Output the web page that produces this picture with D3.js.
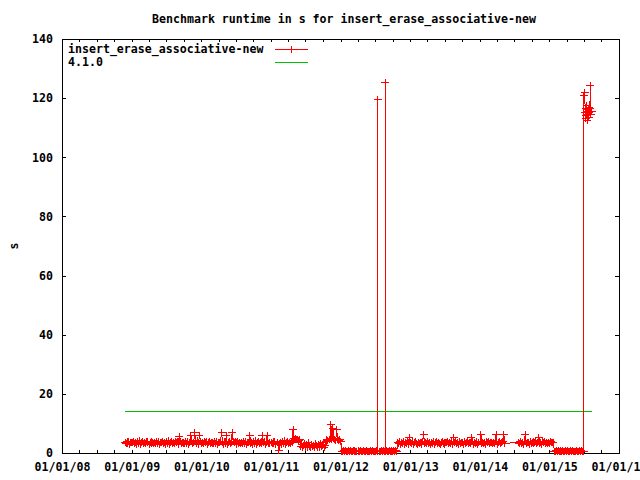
<!DOCTYPE html>
<html><head><meta charset="utf-8">
<script src="https://cdn.jsdelivr.net/npm/d3@7"></script>
<style>
body{margin:0;background:#fff}
svg{display:block}
text{font-family:"DejaVu Sans Mono",monospace;font-weight:bold;font-size:11.6px;fill:#000}
</style>
</head><body>
<svg id="chart" width="640" height="480"></svg>
<script>
const chartTitle = "Benchmark runtime in s for insert_erase_associative-new";
const yLabel = "s";
const seriesName = "insert_erase_associative-new";
const refName = "4.1.0";
const refValue = 14;
const yTickValues = [0, 20, 40, 60, 80, 100, 120, 140];
const xDomain = ["2008-01-01", "2016-01-01"];

const dates = [
"2008-11-28",
"2008-12-02","2008-12-07","2008-12-12","2008-12-17","2008-12-22","2008-12-27",
"2009-01-02","2009-01-07","2009-01-12","2009-01-17","2009-01-22","2009-01-27",
"2009-02-02","2009-02-07","2009-02-12","2009-02-17","2009-02-22","2009-02-27",
"2009-03-02","2009-03-07","2009-03-12","2009-03-17","2009-03-22","2009-03-27",
"2009-04-02","2009-04-07","2009-04-12","2009-04-17","2009-04-22","2009-04-27",
"2009-05-02","2009-05-07","2009-05-12","2009-05-17","2009-05-22","2009-05-27",
"2009-06-02","2009-06-07","2009-06-12","2009-06-17","2009-06-22","2009-06-27",
"2009-07-02","2009-07-07","2009-07-12","2009-07-17","2009-07-22","2009-07-27",
"2009-08-02","2009-08-07","2009-08-12","2009-08-17","2009-08-22","2009-08-27",
"2009-09-02","2009-09-07","2009-09-12","2009-09-17","2009-09-22","2009-09-27",
"2009-10-02","2009-10-07","2009-10-12","2009-10-17","2009-10-22","2009-10-27",
"2009-11-02","2009-11-07","2009-11-12","2009-11-17","2009-11-22","2009-11-27",
"2009-12-02","2009-12-07","2009-12-12","2009-12-17","2009-12-22","2009-12-27",
"2010-01-02","2010-01-07","2010-01-12","2010-01-17","2010-01-22","2010-01-27",
"2010-02-02","2010-02-07","2010-02-12","2010-02-17","2010-02-22","2010-02-27",
"2010-03-02","2010-03-07","2010-03-12","2010-03-17","2010-03-22","2010-03-27",
"2010-04-02","2010-04-07","2010-04-12","2010-04-17","2010-04-22","2010-04-27",
"2010-05-02","2010-05-07","2010-05-12","2010-05-17","2010-05-22","2010-05-27",
"2010-06-02","2010-06-07","2010-06-12","2010-06-17","2010-06-22","2010-06-27",
"2010-07-02","2010-07-07","2010-07-12","2010-07-17","2010-07-22","2010-07-27",
"2010-08-02","2010-08-07","2010-08-12","2010-08-17","2010-08-22","2010-08-27",
"2010-09-02","2010-09-07","2010-09-12","2010-09-17","2010-09-22","2010-09-27",
"2010-10-02","2010-10-07","2010-10-12","2010-10-17","2010-10-22","2010-10-27",
"2010-11-02","2010-11-07","2010-11-12","2010-11-17","2010-11-22","2010-11-27",
"2010-12-02","2010-12-07","2010-12-12","2010-12-17","2010-12-22","2010-12-27",
"2011-01-02","2011-01-07","2011-01-12","2011-01-17","2011-01-22","2011-01-27",
"2011-02-02","2011-02-07","2011-02-12","2011-02-17","2011-02-22","2011-02-27",
"2011-03-02","2011-03-07","2011-03-12","2011-03-17","2011-03-22","2011-03-27",
"2011-04-02","2011-04-07","2011-04-12","2011-04-17","2011-04-22","2011-04-27",
"2011-05-02","2011-05-07","2011-05-12","2011-05-17","2011-05-22","2011-05-27",
"2011-06-02","2011-06-07","2011-06-12","2011-06-17","2011-06-22","2011-06-27",
"2011-07-02","2011-07-07","2011-07-12","2011-07-17","2011-07-22","2011-07-27",
"2011-08-02","2011-08-07","2011-08-12","2011-08-17","2011-08-22","2011-08-27",
"2011-09-02","2011-09-07","2011-09-12","2011-09-17","2011-09-22","2011-09-27",
"2011-10-02","2011-10-07","2011-10-12","2011-10-17","2011-10-22","2011-10-27",
"2011-11-02","2011-11-07","2011-11-12","2011-11-17","2011-11-22","2011-11-27",
"2011-12-02","2011-12-07","2011-12-12","2011-12-17","2011-12-22","2011-12-27",
"2012-01-03","2012-01-07","2012-01-12","2012-01-17","2012-01-22","2012-01-27",
"2012-02-02","2012-02-07","2012-02-12","2012-02-17","2012-02-22","2012-02-27",
"2012-03-02","2012-03-07","2012-03-12","2012-03-17","2012-03-22","2012-03-27",
"2012-04-02","2012-04-07","2012-04-12","2012-04-17","2012-04-22","2012-04-27",
"2012-05-02","2012-05-07","2012-05-12","2012-05-17","2012-05-22","2012-05-27",
"2012-06-02","2012-06-07","2012-06-12","2012-06-17","2012-06-22","2012-06-27",
"2012-07-02","2012-07-07","2012-07-13","2012-07-14","2012-07-15","2012-07-22","2012-07-27",
"2012-08-02","2012-08-07","2012-08-12","2012-08-17","2012-08-22","2012-08-23","2012-08-24","2012-08-27",
"2012-09-02","2012-09-07","2012-09-12","2012-09-17","2012-09-22","2012-09-27",
"2012-10-02","2012-10-07","2012-10-12","2012-10-17","2012-10-22","2012-10-27",
"2012-11-02","2012-11-07","2012-11-12","2012-11-17","2012-11-22","2012-11-27",
"2012-12-02","2012-12-07","2012-12-12","2012-12-17","2012-12-22","2012-12-27",
"2013-01-02","2013-01-07","2013-01-12","2013-01-17","2013-01-22","2013-01-27",
"2013-02-02","2013-02-07","2013-02-12","2013-02-17","2013-02-22","2013-02-27",
"2013-03-02","2013-03-07","2013-03-12","2013-03-17","2013-03-22","2013-03-27",
"2013-04-02","2013-04-07","2013-04-12","2013-04-17","2013-04-22","2013-04-27",
"2013-05-02","2013-05-07","2013-05-12","2013-05-17","2013-05-22","2013-05-27",
"2013-06-02","2013-06-07","2013-06-12","2013-06-17","2013-06-22","2013-06-27",
"2013-07-02","2013-07-07","2013-07-12","2013-07-17","2013-07-22","2013-07-27",
"2013-08-02","2013-08-07","2013-08-12","2013-08-17","2013-08-22","2013-08-27",
"2013-09-02","2013-09-07","2013-09-12","2013-09-17","2013-09-22","2013-09-27",
"2013-10-02","2013-10-07","2013-10-12","2013-10-17","2013-10-22","2013-10-27",
"2013-11-02","2013-11-07","2013-11-12","2013-11-17","2013-11-22","2013-11-27",
"2013-12-02","2013-12-07","2013-12-12","2013-12-17","2013-12-22","2013-12-27",
"2014-01-02","2014-01-07","2014-01-12","2014-01-17","2014-01-22","2014-01-27",
"2014-02-02","2014-02-07","2014-02-12","2014-02-17","2014-02-22","2014-02-27",
"2014-03-02","2014-03-07","2014-03-12","2014-03-17","2014-03-22","2014-03-27",
"2014-04-02","2014-04-07","2014-04-12","2014-04-17","2014-04-22","2014-04-27",
"2014-05-02","2014-05-07","2014-05-12",
"2014-07-22","2014-07-27",
"2014-08-02","2014-08-07","2014-08-12","2014-08-17","2014-08-22","2014-08-27",
"2014-09-02","2014-09-07","2014-09-12","2014-09-17","2014-09-22","2014-09-27",
"2014-10-02","2014-10-07","2014-10-12","2014-10-17","2014-10-22","2014-10-27",
"2014-11-02","2014-11-07","2014-11-12","2014-11-17","2014-11-22","2014-11-27",
"2014-12-02","2014-12-07","2014-12-12","2014-12-17","2014-12-22","2014-12-27",
"2015-01-02","2015-01-07","2015-01-12","2015-01-17","2015-01-22","2015-01-27",
"2015-02-02","2015-02-07","2015-02-12","2015-02-17","2015-02-22","2015-02-27",
"2015-03-02","2015-03-07","2015-03-12","2015-03-17","2015-03-22","2015-03-27",
"2015-04-02","2015-04-07","2015-04-12","2015-04-17","2015-04-22","2015-04-27",
"2015-05-02","2015-05-07","2015-05-12","2015-05-17","2015-05-22","2015-05-27",
"2015-06-02","2015-06-07","2015-06-12","2015-06-17","2015-06-22","2015-06-27","2015-06-30",
"2015-07-01","2015-07-05","2015-07-08","2015-07-10","2015-07-12","2015-07-14","2015-07-16","2015-07-18","2015-07-20",
"2015-07-22","2015-07-24","2015-07-26","2015-07-28","2015-07-30","2015-08-01","2015-08-04","2015-08-07","2015-08-11"
];

const runtime = [
3.5,
3.1,3.9,3.2,3.8,3.0,3.6,
3.7,3.4,4.0,3.1,3.6,2.9,
3.8,3.3,4.1,3.0,3.5,3.9,
3.2,3.7,3.1,4.0,3.4,3.8,
3.0,3.6,3.9,3.2,3.7,3.3,
3.5,3.1,3.9,3.2,3.8,3.0,
3.7,3.4,4.0,3.1,3.6,2.9,
3.8,3.3,4.1,3.0,3.5,3.9,
3.2,3.7,3.1,4.0,3.4,3.8,
3.0,5.5,3.9,3.2,3.7,3.3,
3.5,3.1,3.9,3.2,3.8,3.0,
3.7,6.0,4.0,3.1,3.6,6.9,
3.8,3.3,4.1,3.0,6.0,3.9,
3.2,3.7,3.1,4.0,3.4,3.8,
3.0,3.6,3.9,3.2,3.7,3.3,
3.5,3.1,3.9,3.2,3.8,3.0,
3.7,3.4,4.0,6.9,3.6,2.9,
3.8,3.3,6.0,3.0,3.5,3.9,
3.2,3.7,7.0,4.0,3.4,3.8,
3.0,3.6,3.9,3.2,3.7,3.3,
3.5,3.1,3.9,3.2,3.8,3.0,
3.7,3.4,6.0,3.1,3.6,2.9,
3.8,3.3,4.1,3.0,3.5,3.9,
3.2,3.7,3.1,6.0,3.4,3.8,
3.0,3.6,6.0,3.2,3.7,3.3,
3.5,3.1,3.9,3.2,3.8,3.0,
3.7,3.4,1.0,3.1,3.6,2.9,
3.8,3.3,4.1,3.0,3.5,3.9,
3.2,3.7,3.1,4.0,3.4,7.8,
4.8,4.4,5.0,4.5,4.7,4.3,
4.6,2.2,3.0,1.8,2.6,3.2,
1.9,2.8,2.0,3.4,2.3,1.7,
3.0,2.1,2.7,1.8,3.3,2.4,
2.0,2.9,1.7,3.1,2.2,2.6,
3.4,1.9,2.5,4.0,4.6,4.2,
4.4,4.8,9.5,4.5,8.3,4.9,
4.6,4.2,8.0,4.7,4.3,4.5,
3.8,0.6,0.4,0.8,0.5,0.7,
0.4,0.6,0.8,0.5,0.7,0.5,
0.6,0.8,0.4,0.7,0.5,0.6,
0.8,0.5,0.4,0.7,0.6,0.5,
0.7,0.4,0.6,0.8,0.5,0.6,
0.4,0.7,0.5,0.8,0.6,0.4,
0.6,0.8,0.5,119.4,0.7,0.4,0.6,
0.8,0.5,0.7,0.4,0.6,125.4,0.5,0.7,
0.4,0.6,0.8,0.5,0.7,0.4,
0.6,0.8,0.5,0.7,0.5,3.4,
3.1,3.8,2.9,3.6,3.2,3.9,
3.0,3.7,3.3,3.8,2.9,5.3,
3.6,3.2,3.9,3.0,3.5,3.8,
3.3,2.9,3.7,3.1,3.6,3.4,
3.0,3.8,6.3,3.2,3.7,3.3,
3.9,3.1,3.5,2.8,3.6,3.2,
3.8,3.0,3.4,3.9,3.1,3.7,
3.3,2.9,3.6,3.8,3.2,3.5,
3.0,3.7,3.4,3.9,3.1,3.6,
3.2,3.8,3.0,5.3,3.5,3.9,
3.3,3.6,2.9,3.8,3.1,3.7,
3.4,3.0,3.9,3.2,3.6,3.8,
3.1,3.5,3.3,5.3,3.9,3.0,
3.7,3.2,3.6,3.8,2.9,3.4,
3.9,6.3,3.1,3.7,3.3,3.6,
3.0,3.8,3.4,3.9,3.2,3.5,
3.7,3.1,3.6,3.3,3.8,6.3,
3.0,3.5,3.9,3.2,3.6,3.4,
3.8,6.3,3.3,
3.5,3.1,
3.8,3.3,3.6,3.0,3.9,6.3,
3.2,3.7,3.4,3.0,3.8,3.3,
3.6,3.9,3.1,3.5,3.8,3.2,
3.7,5.3,3.3,3.6,3.0,3.9,
3.4,3.8,3.1,3.6,3.3,3.7,
3.2,3.9,3.4,3.6,3.5,0.6,
0.4,0.8,0.5,0.7,0.6,0.4,
0.7,0.5,0.8,0.4,0.6,0.7,
0.5,0.8,0.4,0.6,0.7,0.5,
0.8,0.4,0.6,0.5,0.7,0.4,
0.6,0.8,0.5,0.7,0.4,0.6,0.5,
121.0,122.0,115.0,113.0,116.5,114.0,117.5,112.5,115.5,
114.5,116.0,113.5,117.0,115.0,116.5,124.2,114.5,115.5
];

const parse = d3.timeParse("%Y-%m-%d");
const data = dates.map((d, i) => ({date: parse(d), value: runtime[i]}));

const svg = d3.select("#chart").attr("shape-rendering", "crispEdges");
const L = 62, R = 619, T = 39, B = 453;

const x = d3.scaleTime().domain(xDomain.map(parse)).range([L, R]);
const y = d3.scaleLinear().domain([0, 140]).range([B, T]);

// title
svg.append("text").attr("x", 344).attr("y", 23).attr("text-anchor", "middle").text(chartTitle);
// y label
svg.append("text").attr("transform", "translate(18,246) rotate(-90)").attr("text-anchor", "middle").text(yLabel);

// axes (ticks point inward, gnuplot style)
const quarters = d3.timeMonth.every(3).range(parse("2008-01-01"), parse("2016-01-02"));
const fmt = d3.timeFormat("%m/%d/%y");
const xb = d3.axisBottom(x).tickValues(quarters).tickSizeInner(-3).tickSizeOuter(0).tickPadding(10)
  .tickFormat(d => d.getMonth() === 0 ? fmt(d) : "");
const xt = d3.axisTop(x).tickValues(quarters).tickSizeInner(-3).tickSizeOuter(0).tickFormat("");
const yl = d3.axisLeft(y).tickValues(yTickValues).tickSizeInner(-4).tickSizeOuter(0).tickPadding(9).tickFormat(d3.format("d"));
const yr = d3.axisRight(y).tickValues(yTickValues).tickSizeInner(-4).tickSizeOuter(0).tickFormat("");

function style(g){
  g.select(".domain").remove();
  g.selectAll("line").attr("stroke", "#000");
  g.selectAll("text").attr("font-family", null).attr("font-size", null).attr("fill", "#000");
}
svg.append("g").attr("transform", `translate(0,${B})`).call(xb).call(style);
svg.append("g").attr("transform", `translate(0,${T})`).call(xt).call(style);
svg.append("g").attr("transform", `translate(${L},0)`).call(yl).call(style);
svg.append("g").attr("transform", `translate(${R},0)`).call(yr).call(style);

// frame
svg.append("rect").attr("x", L).attr("y", T).attr("width", R - L).attr("height", B - T)
  .attr("fill", "none").attr("stroke", "#000");

// reference line
const first = data[0].date, last = data[data.length - 1].date;
svg.append("line").attr("x1", x(first)).attr("x2", x(last)).attr("y1", y(refValue)).attr("y2", y(refValue))
  .attr("stroke", "#00c000");

// series line
const line = d3.line().x(d => x(d.date)).y(d => y(d.value));
svg.append("path").datum(data).attr("d", line).attr("fill", "none").attr("stroke", "#ff0000");

// plus markers
const plus = (cx, cy) => `M${cx-4},${cy}H${cx+4}M${cx},${cy-3.5}V${cy+3.5}`;
svg.append("path").attr("d", data.map(d => plus(x(d.date), y(d.value))).join(""))
  .attr("fill", "none").attr("stroke", "#ff0000");

// legend
svg.append("text").attr("x", 68).attr("y", 49).attr("dy", "0.35em").text(seriesName);
svg.append("text").attr("x", 68).attr("y", 62).attr("dy", "0.35em").text(refName);
svg.append("line").attr("x1", 275).attr("x2", 308).attr("y1", 49).attr("y2", 49).attr("stroke", "#ff0000");
svg.append("path").attr("d", plus(291, 49)).attr("fill", "none").attr("stroke", "#ff0000");
svg.append("line").attr("x1", 275).attr("x2", 308).attr("y1", 62).attr("y2", 62).attr("stroke", "#00c000");
</script>
</body></html>
